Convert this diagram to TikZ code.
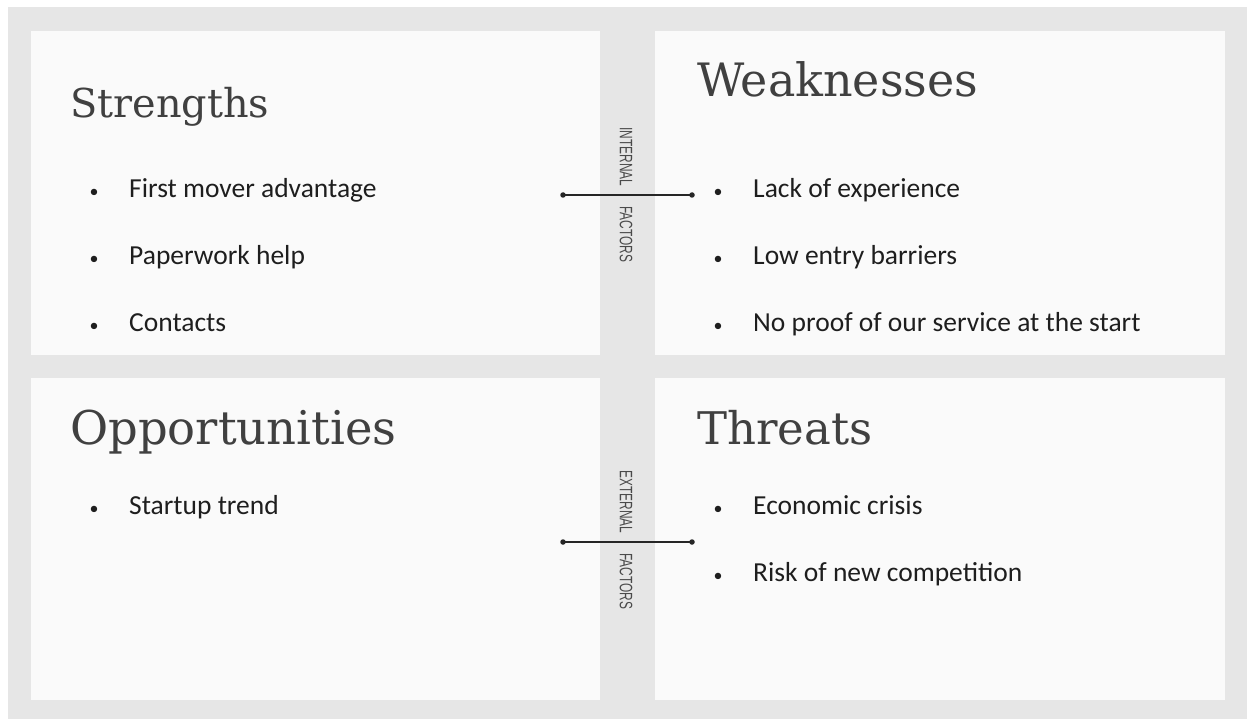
\documentclass[tikz,border=0pt]{standalone}
\usepackage{fontspec}
\setmainfont{Carlito}
\newfontfamily\titlefont{DejaVu Serif}
\newfontfamily\labfont{Liberation Sans}
\definecolor{bggray}{HTML}{E6E6E6}
\definecolor{boxfill}{HTML}{FAFAFA}
\definecolor{titlecol}{HTML}{404040}
\definecolor{itemcol}{HTML}{1E1E1E}
\definecolor{labcol}{HTML}{4A4A4A}
\tikzset{
  quad/.style={fill=boxfill, draw=none, inner sep=0pt, anchor=north west, minimum width=569pt, minimum height=324pt},
  ttl/.style={text=titlecol, inner sep=0pt, anchor=base west},
  itm/.style={font=\fontsize{27.5}{32}\selectfont, text=itemcol, inner sep=0pt, anchor=base west},
  bul/.style={font=\fontsize{18}{20}\selectfont, text=itemcol, inner sep=0pt, anchor=base},
  vlab/.style={font=\labfont\fontsize{18}{20}\selectfont, text=labcol, inner sep=0pt, rotate=-90, xscale=0.66},
  dotline/.style={draw=black!85, line width=1.1pt},
  enddot/.style={fill=black!85, circle, inner sep=0pt, minimum size=5.5pt}
}
\begin{document}
\begin{tikzpicture}[x=1pt,y=-1pt]
\useasboundingbox (0,0) rectangle (1249,719);
\fill[white] (0,0) rectangle (1249,719);
\fill[bggray] (8,7) rectangle (1247,719);
% quadrants
\node[quad] (S) at (31,31) {};
\node[quad, minimum width=570pt] (W) at (655,31) {};
\node[quad, minimum height=322pt] (O) at (31,378) {};
\node[quad, minimum width=570pt, minimum height=322pt] (T) at (655,378) {};
% titles
\node[ttl, font=\titlefont\fontsize{39.8}{46}\selectfont] (st) at (70,118) {Strengths};
\node[ttl, font=\titlefont\fontsize{46}{52}\selectfont] (wt) at (697,97) {Weaknesses};
\node[ttl, font=\titlefont\fontsize{46.5}{52}\selectfont] (ot) at (70,444) {Opportunities};
\node[ttl, font=\titlefont\fontsize{45}{52}\selectfont] (tt) at (697,444) {Threats};
% strengths
\node[bul] (sb1) at (94,198) {•}; \node[itm] (s1) at (129,198) {First mover advantage};
\node[bul] (sb2) at (94,264) {•}; \node[itm] (s2) at (129,264) {Paperwork help};
\node[bul] (sb3) at (94,331) {•}; \node[itm] (s3) at (129,331) {Contacts};
% weaknesses
\node[bul] (wb1) at (718,198) {•}; \node[itm] (w1) at (753,198) {Lack of experience};
\node[bul] (wb2) at (718,264) {•}; \node[itm] (w2) at (753,264) {Low entry barriers};
\node[bul] (wb3) at (718,331) {•}; \node[itm] (w3) at (753,331) {No proof of our service at the start};
% opportunities
\node[bul] (ob1) at (94,514) {•}; \node[itm] (o1) at (129,514) {Startup trend};
% threats
\node[bul] (tb1) at (718,514) {•}; \node[itm] (t1) at (753,514) {Economic crisis};
\node[bul] (tb2) at (718,581) {•}; \node[itm] (t2) at (753,581) {Risk of new competition};
% center labels
\node[vlab] (int) at (626,157) {INTERNAL};
\node[vlab] (intf) at (626,234) {FACTORS};
\node[vlab] (ext) at (626,502) {EXTERNAL};
\node[vlab] (extf) at (626,581) {FACTORS};
\coordinate (ia) at (563,195);
\coordinate (ib) at (692,195);
\coordinate (ea) at (563,542);
\coordinate (eb) at (692,542);
\draw[dotline] (ia) -- (ib);
\draw[dotline] (ea) -- (eb);
\node[enddot] (iad) at (ia) {};
\node[enddot] (ibd) at (ib) {};
\node[enddot] (ead) at (ea) {};
\node[enddot] (ebd) at (eb) {};
\end{tikzpicture}
\end{document}
